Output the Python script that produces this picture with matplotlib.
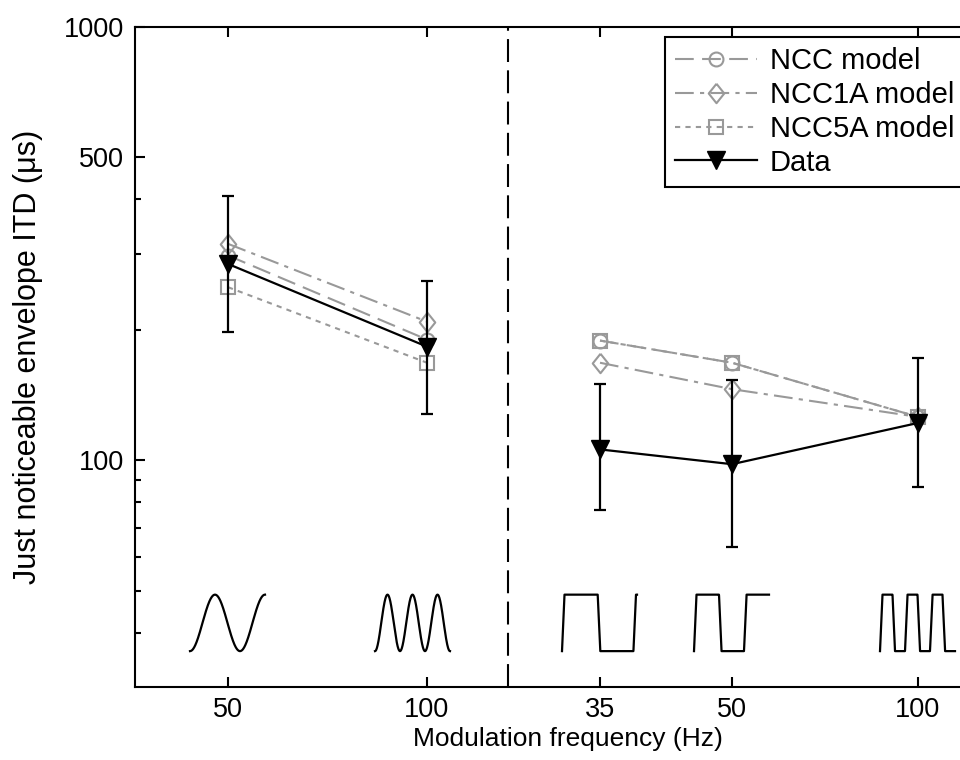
import numpy as np
import matplotlib
matplotlib.use("Agg")
import matplotlib.pyplot as plt
from matplotlib.ticker import FixedLocator, FixedFormatter, NullFormatter, NullLocator

plt.rcParams['font.family'] = ['Liberation Sans', 'DejaVu Sans']

# x positions of the conditions (left panel: sine, right panel: square)
tick_labels = ["50", "100", "35", "50", "100"]
xpos = [0.93, 2.92, 4.65, 5.97, 7.83]
divider_x = 3.73

# thresholds in microseconds
data = [284, 183, 106, 98, 122]
data_hi = [408, 260, 150, 153, 172]
data_lo = [198, 128, 77, 63, 87]
ncc = [297, 190, 189, 168, 126]
ncc1a = [316, 209, 168, 146, 126]
ncc5a = [251, 168, 189, 168, 126]

gray = "#999999"

fig = plt.figure(figsize=(9.6, 7.6), dpi=100)
ax = fig.add_axes([135 / 960, 73 / 760, 865 / 960, 660 / 760])
ax.set_yscale("log")
ax.set_ylim(30, 1000)
ax.set_xlim(0, 8.65)


# model lines, split in the two panels
def panel_plot(vals, **kw):
    h = ax.plot(xpos[:2], vals[:2], **kw)
    kw.pop("label", None)
    ax.plot(xpos[2:], vals[2:], **kw)
    return h


diamond = [(0, 1), (0.8, 0), (0, -1), (-0.8, 0), (0, 1)]
mk = dict(color=gray, markerfacecolor="none", markeredgecolor=gray,
          markeredgewidth=1.5, lw=1.5)
panel_plot(ncc, marker="o", ms=10, ls=(0, (9, 4)), label="NCC model", **mk)
panel_plot(ncc1a, marker=diamond, ms=14, ls=(0, (9, 3, 2, 3)), label="NCC1A model", **mk)
panel_plot(ncc5a, marker="s", ms=9.5, ls=(0, (2.5, 2.5)), label="NCC5A model", **mk)

err = [np.array(data) - np.array(data_lo), np.array(data_hi) - np.array(data)]
for sl in (slice(0, 2), slice(2, 5)):
    ax.errorbar(xpos[sl], data[sl], yerr=[err[0][sl], err[1][sl]], color="black",
                lw=1.6, elinewidth=1.6, capsize=4, capthick=1.6, marker="v",
                ms=13.5, markerfacecolor="black", zorder=5)
ax.plot([], [], color="black", lw=1.6, marker="v", ms=13.5, label="Data")

ax.axvline(divider_x, color="black", lw=1.5, ls=(0, (11, 4)))

# waveform icons below the data
lo, hi = np.log10(36.3), np.log10(49)
px = 0.01  # data units per pixel
t = np.linspace(0, 30, 600)  # ms, 2.5 px per ms


def to_y(s):
    return 10 ** (lo + (hi - lo) * s)


for x0, f, shift in [(xpos[0], 50, 0), (xpos[1], 100, -14)]:
    s = 0.5 - 0.5 * np.cos(2 * np.pi * f * t / 1000)
    ax.plot(x0 + (shift - 38 + t * 2.5) * px, to_y(s), color="black", lw=1.6)

for x0, f in [(xpos[2], 35), (xpos[3], 50), (xpos[4], 100)]:
    T = 1000 / f
    tau = np.mod(t, T)
    s = np.interp(tau, [0, 1, T / 2, T / 2 + 1, T], [0, 1, 1, 0, 0])
    ax.plot(x0 + (-38 + t * 2.5) * px, to_y(s), color="black", lw=1.6)

ax.set_xticks(xpos)
ax.set_xticklabels(tick_labels)
ax.yaxis.set_major_locator(FixedLocator([100, 500, 1000]))
ax.yaxis.set_minor_locator(FixedLocator([40, 50, 60, 70, 80, 90, 200, 300, 400]))
ax.yaxis.set_major_formatter(FixedFormatter(["100", "500", "1000"]))
ax.yaxis.set_minor_formatter(NullFormatter())
ax.xaxis.set_minor_locator(NullLocator())
ax.tick_params(which="both", direction="in", top=True, right=True, labelsize=19.5,
               width=1.5)
ax.tick_params(axis="y", pad=8)
ax.tick_params(axis="x", pad=7)
ax.tick_params(which="major", length=7)
ax.tick_params(which="minor", length=4)
for sp in ax.spines.values():
    sp.set_linewidth(1.5)

ax.set_xlabel("Modulation frequency (Hz)", fontsize=19, labelpad=3)
ax.set_ylabel("Just noticeable envelope ITD (μs)", fontsize=22, labelpad=15)

leg = ax.legend(loc="upper left", bbox_to_anchor=((665 - 135) / 865, (687 - 37) / 660),
                borderaxespad=0, fontsize=21, fancybox=False, framealpha=1,
                edgecolor="black", handlelength=2.8, labelspacing=0.2,
                borderpad=0.35, handletextpad=0.45)
leg.get_frame().set_linewidth(1.5)

fig.savefig("out.png", dpi=100)
